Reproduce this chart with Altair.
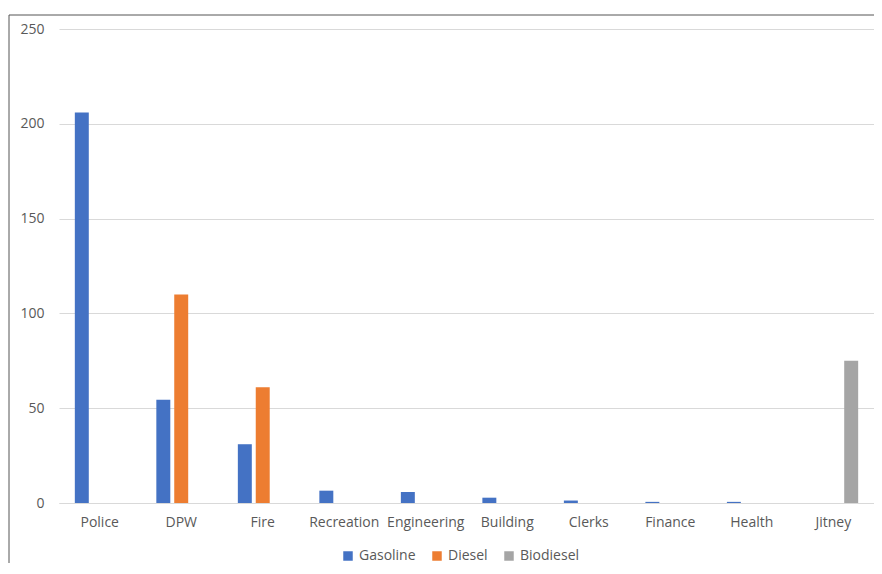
import altair as alt
import pandas as pd

departments = ["Police", "DPW", "Fire", "Recreation", "Engineering",
               "Building", "Clerks", "Finance", "Health", "Jitney"]
fuels = ["Gasoline", "Diesel", "Biodiesel"]
gasoline = [206, 54.5, 31, 6.5, 5.8, 2.8, 1.3, 0.6, 0.6, 0]
diesel = [0, 110, 61, 0, 0, 0, 0, 0, 0, 0]
biodiesel = [0, 0, 0, 0, 0, 0, 0, 0, 0, 75]
colors = ["#4472C4", "#ED7D31", "#A5A5A5"]

rows = []
for i, d in enumerate(departments):
    for f, vals in zip(fuels, [gasoline, diesel, biodiesel]):
        rows.append({"Department": d, "Fuel": f, "Value": vals[i]})
df = pd.DataFrame(rows)

FONT = "Open Sans"
TXT = "#595959"
FS = 14

bars = alt.Chart(df).mark_bar().encode(
    x=alt.X("Department:N", sort=departments, title=None,
            scale=alt.Scale(paddingInner=0.341, paddingOuter=0.17),
            axis=alt.Axis(labelAngle=0, labelPadding=12, ticks=False,
                          domainColor="#d9d9d9", labelColor=TXT,
                          labelFont=FONT, labelFontSize=FS)),
    xOffset=alt.XOffset("Fuel:N", sort=fuels,
                        scale=alt.Scale(domain=fuels, paddingInner=0.22, paddingOuter=0.11)),
    y=alt.Y("Value:Q", title=None,
            scale=alt.Scale(domain=[0, 250]),
            axis=alt.Axis(values=[0, 50, 100, 150, 200, 250], ticks=False,
                          domain=False, gridColor="#d9d9d9", labelPadding=15,
                          labelColor=TXT, labelFont=FONT, labelFontSize=FS)),
    color=alt.Color("Fuel:N", sort=fuels, title=None,
                    scale=alt.Scale(domain=fuels, range=colors),
                    legend=alt.Legend(orient="none", direction="horizontal",
                                      legendX=282, legendY=520,
                                      symbolType="square", symbolSize=90,
                                      labelFont=FONT, labelFontSize=FS,
                                      labelColor=TXT,
                                      columnPadding=14, labelOffset=4)),
)

frame_top = alt.Chart(pd.DataFrame({"a": [0]})).mark_rule(color="#555555", strokeWidth=1).encode(
    x=alt.value(-50), x2=alt.value(830), y=alt.value(-14))
frame_left = alt.Chart(pd.DataFrame({"a": [0]})).mark_rule(color="#555555", strokeWidth=1).encode(
    x=alt.value(-50), y=alt.value(-14), y2=alt.value(540))

chart = alt.layer(bars, frame_top, frame_left).properties(
    width=815, height=474,
    autosize=alt.AutoSizeParams(type="none"),
    padding={"left": 51, "top": 21, "right": 0, "bottom": 60},
).configure_view(stroke=None)

chart.save("out.html", embed_options={"renderer": "svg", "actions": False})
